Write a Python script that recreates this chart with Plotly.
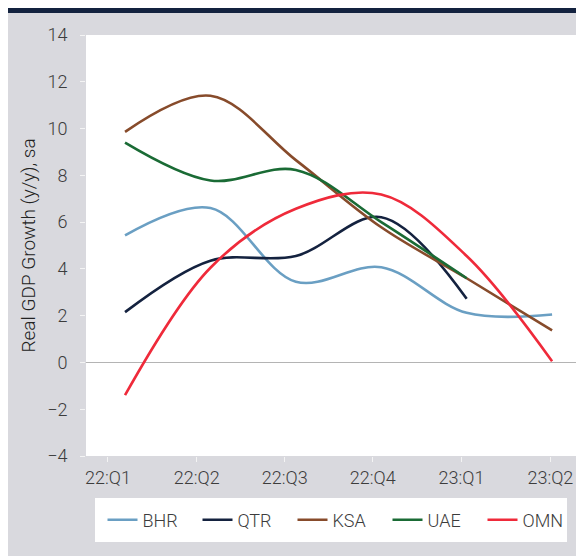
import plotly.graph_objects as go

quarters = ["22:Q1", "22:Q2", "22:Q3", "22:Q4", "23:Q1", "23:Q2"]
x_idx = [0, 1, 2, 3, 4, 5]

bhr = [5.43, 6.6, 3.45, 4.07, 2.12, 2.05]
qtr = [2.15, 4.35, 4.55, 6.21, 2.72, None]
ksa = [9.86, 11.4, 8.65, 5.78, 3.6, 1.37]
uae = [9.4, 7.78, 8.23, 6.0, 3.6, None]
omn = [-1.4, 4.05, 6.57, 7.18, 4.55, 0.05]

# tick labels sit slightly off the data points in the original chart
tick_pos = [-0.2, 0.84, 1.87, 2.9, 3.94, 4.98]

series = [
    ("BHR", bhr, "#6a9fc3"),
    ("QTR", qtr, "#14223f"),
    ("KSA", ksa, "#874b2b"),
    ("UAE", uae, "#1a6b35"),
    ("OMN", omn, "#ef2a3a"),
]

BG = "#d9d9de"
FONT = "Roboto"
# the page body adds an 8px white margin, so the figure is 8px smaller
W, H = 576, 548
L, R, T, B = 78, 8, 27, 100
PW, PH = W - L - R, H - T - B

fig = go.Figure()
for name, vals, color in series:
    fig.add_trace(go.Scatter(
        x=x_idx, y=vals, name=name, mode="lines",
        line={"color": color, "width": 2.6, "shape": "spline", "smoothing": 1},
    ))

fig.update_layout(
    width=W, height=H,
    paper_bgcolor=BG, plot_bgcolor="white",
    margin={"l": L, "r": R, "t": T, "b": B, "autoexpand": False},
    font={"family": FONT, "size": 18, "color": "#3c3c3c", "weight": 300},
    showlegend=True,
    legend={
        "orientation": "h", "x": 0.5 + 9 / PW, "xanchor": "center",
        "y": -64 / PH, "yanchor": "middle",
        "bgcolor": "rgba(0,0,0,0)", "borderwidth": 0,
        "entrywidth": 50, "itemwidth": 30,
        "font": {"size": 18},
    },
    xaxis={
        "range": [-0.457, 5.28],
        "tickvals": tick_pos, "ticktext": quarters,
        "ticks": "outside", "ticklen": 5, "tickcolor": "#f4f4f4",
        "showgrid": False, "zeroline": False, "showline": False,
    },
    yaxis={
        "range": [-4, 14], "dtick": 2,
        "ticks": "outside", "ticklen": 5, "tickcolor": "#f4f4f4",
        "ticklabelstandoff": 9,
        "showgrid": False, "zeroline": True, "zerolinecolor": "#b4b4b4",
        "zerolinewidth": 1.2, "showline": False,
        "title": {"text": "Real GDP Growth (y/y), sa", "standoff": 6,
                  "font": {"color": "#222222", "size": 19}},
        "tickformat": "d",
    },
)

# white legend box
fig.add_shape(type="rect", xref="paper", yref="paper",
              x0=9 / PW, x1=481 / PW,
              y0=-86 / PH, y1=-42 / PH,
              fillcolor="white", line={"width": 0}, layer="below")
# dark band across the top
fig.add_shape(type="rect", xref="paper", yref="paper",
              x0=-0.3, x1=1.1, y0=1.0 + 22 / PH, y1=1.0 + 30 / PH,
              fillcolor="#13223f", line={"width": 0}, layer="above")

fig.write_html("out.html")
